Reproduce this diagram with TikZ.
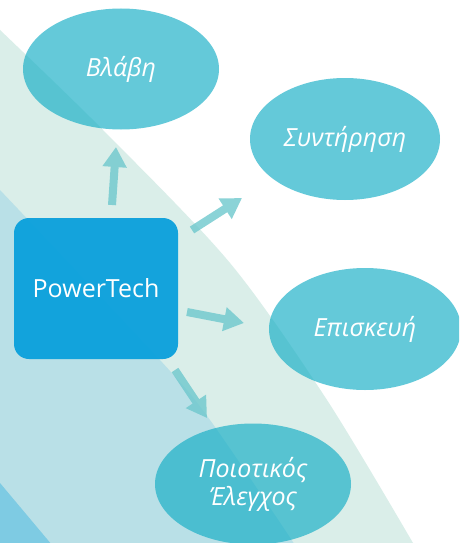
\documentclass[tikz,border=0pt]{standalone}
\usepackage{fontspec}
\setmainfont{Open Sans}
\usetikzlibrary{shapes.geometric,arrows.meta}
\definecolor{mint}{RGB}{218,238,233}
\definecolor{lblue}{RGB}{185,224,231}
\definecolor{dblue}{RGB}{126,203,227}
\definecolor{ellc}{RGB}{17,173,197}
\definecolor{rectc}{RGB}{10,160,220}
\definecolor{arrc}{RGB}{110,200,205}
\tikzset{
 bubble/.style={ellipse, fill=ellc, fill opacity=0.65, text opacity=1, text=white, inner sep=0pt,
   minimum width=196pt, minimum height=121pt, font=\fontsize{25}{28}\selectfont\itshape, align=center},
 mainbox/.style={rounded corners=15pt, fill=rectc, fill opacity=0.95, text opacity=1, text=white,
   minimum width=164pt, minimum height=141pt, font=\fontsize{25}{28}\selectfont},
 link/.style={draw=arrc, line width=8pt, -{Triangle[width=23pt,length=20pt]}}
}
\begin{document}
\begin{tikzpicture}[x=1pt,y=-1pt]
\path[use as bounding box] (0,0) rectangle (459,543);
\clip (0,0) rectangle (459,543);
\fill[white] (0,0) rectangle (459,543);
\fill[mint] plot[smooth] coordinates {(0,30) (103,130) (230,263) (327,400) (413,543)} -- (0,545) -- cycle;
\fill[lblue] plot[smooth] coordinates {(0,190) (160,360) (210,420) (295,545)} -- (0,545) -- cycle;
\fill[dblue] (0,483) -- (52,545) -- (0,545) -- cycle;
\begin{scope}[transparency group, opacity=0.8]
\coordinate (u0) at (112,205); \coordinate (u1) at (116,147);
\coordinate (r0) at (192,230); \coordinate (r1) at (242,198);
\coordinate (e0) at (187,312); \coordinate (e1) at (244,323);
\coordinate (d0) at (175,370); \coordinate (d1) at (207,418);
\draw[link] (u0) -- (u1);
\draw[link] (r0) -- (r1);
\draw[link] (e0) -- (e1);
\draw[link] (d0) -- (d1);
\end{scope}
\node[mainbox] (pt) at (96,288.5) {PowerTech};
\node[bubble] (b1) at (121,69) {Βλάβη};
\node[bubble, minimum width=190pt, minimum height=122pt] (b2) at (345,139) {Συντήρηση};
\node[bubble, minimum width=192pt, minimum height=122pt] (b3) at (365,329) {Επισκευή};
\node[bubble] (b4) at (253,484) {Ποιοτικός\\Έλεγχος};
\end{tikzpicture}
\end{document}
